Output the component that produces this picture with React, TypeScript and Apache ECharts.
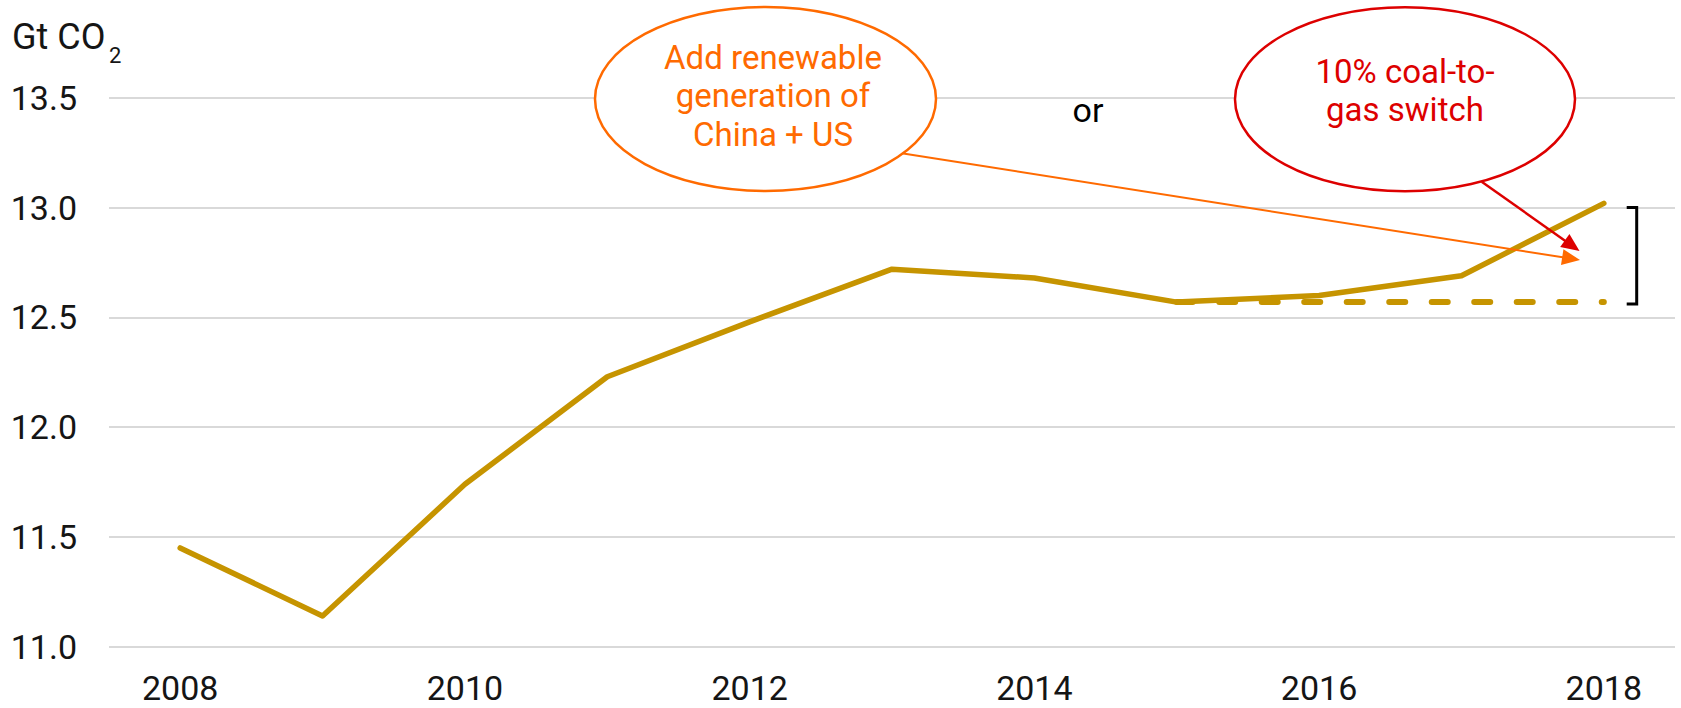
import React, { useEffect, useRef } from "react";
import * as echarts from "echarts";

// ---- data ----
const years = [2008, 2009, 2010, 2011, 2012, 2013, 2014, 2015, 2016, 2017, 2018];
const emissions = [11.45, 11.14, 11.74, 12.23, 12.48, 12.72, 12.68, 12.57, 12.6, 12.69, 13.02];
const flatYears = [2015, 2018];
const flatValue = 12.57;
const xTickLabels = [2008, 2010, 2012, 2014, 2016, 2018];
const yMin = 11.0;
const yMax = 13.5;
const yStep = 0.5;
const unitMain = "Gt CO";
const unitSub = "2";
const renewText = ["Add renewable", "generation of", "China + US"];
const switchText = ["10% coal-to-", "gas switch"];
const orText = "or";

const GOLD = "#C69400";
const ORANGE = "#FF6A00";
const RED = "#DD0000";
const FONT = "Roboto";

function arrow(sx: number, sy: number, tx: number, ty: number, color: string, w: number) {
  const dx = tx - sx;
  const dy = ty - sy;
  const len = Math.sqrt(dx * dx + dy * dy);
  const ux = dx / len;
  const uy = dy / len;
  const L = 18;
  const hw = 8;
  const bx = tx - ux * L;
  const by = ty - uy * L;
  const nx = -uy;
  const ny = ux;
  return [
    {
      type: "line",
      shape: { x1: sx, y1: sy, x2: bx + ux * 2, y2: by + uy * 2 },
      style: { stroke: color, lineWidth: w },
      z: 50,
    },
    {
      type: "polygon",
      shape: {
        points: [
          [tx, ty],
          [bx + nx * hw, by + ny * hw],
          [bx - nx * hw, by - ny * hw],
        ],
      },
      style: { fill: color },
      z: 50,
    },
  ];
}

export default function App() {
  const ref = useRef<HTMLDivElement>(null);
  useEffect(() => {
    if (!ref.current) return;
    const chart = echarts.init(ref.current, null, { renderer: "svg" });
    const option: any = {
      animation: false,
      backgroundColor: "#ffffff",
      grid: { left: 109, right: 6, top: 98, bottom: 61.3, containLabel: false },
      xAxis: {
        type: "value",
        min: 2007.5,
        max: 2018.5,
        axisLine: { show: false },
        axisTick: { show: false },
        splitLine: { show: false },
        axisLabel: {
          customValues: xTickLabels,
          formatter: (v: number) => String(v),
          margin: 24,
          fontSize: 34,
          fontFamily: FONT,
          color: "#151515",
        },
      },
      yAxis: {
        type: "value",
        min: yMin,
        max: yMax,
        interval: yStep,
        axisLine: { show: false },
        axisTick: { show: false },
        splitLine: { lineStyle: { color: "#D9D9D9", width: 2 } },
        axisLabel: {
          formatter: (v: number) => v.toFixed(1),
          margin: 32,
          fontSize: 34,
          fontFamily: FONT,
          color: "#151515",
        },
      },
      series: [
        {
          type: "line",
          data: flatYears.map((y) => [y, flatValue]),
          showSymbol: false,
          lineStyle: { color: GOLD, width: 6, type: [16, 26.5], cap: "round" },
          z: 2,
        },
        {
          type: "line",
          data: years.map((y, i) => [y, emissions[i]]),
          showSymbol: false,
          lineStyle: { color: GOLD, width: 5.5, cap: "round", join: "round" },
          z: 3,
        },
      ],
      graphic: [
        {
          type: "text",
          x: 12,
          y: 37,
          style: { text: unitMain, fontSize: 36, fontFamily: FONT, fill: "#151515", verticalAlign: "middle", align: "left" },
        },
        {
          type: "text",
          x: 109,
          y: 55,
          style: { text: unitSub, fontSize: 22, fontFamily: FONT, fill: "#151515", verticalAlign: "middle", align: "left" },
        },
        ...arrow(901.7, 153.3, 1580, 260, ORANGE, 2),
        ...arrow(1481.7, 181.7, 1579.5, 251, RED, 2.5),
        {
          type: "ellipse",
          shape: { cx: 765.5, cy: 99, rx: 170.5, ry: 92 },
          style: { fill: "#ffffff", stroke: ORANGE, lineWidth: 2.5 },
          z: 60,
        },
        {
          type: "ellipse",
          shape: { cx: 1405, cy: 99.3, rx: 170, ry: 92 },
          style: { fill: "#ffffff", stroke: RED, lineWidth: 2.5 },
          z: 60,
        },
        {
          type: "text",
          x: 773,
          y: 38,
          z: 61,
          style: {
            text: renewText.join("\n"),
            fontSize: 33,
            lineHeight: 38.5,
            fontFamily: FONT,
            fill: ORANGE,
            align: "center",
            verticalAlign: "top",
          },
        },
        {
          type: "text",
          x: 1405,
          y: 52,
          z: 61,
          style: {
            text: switchText.join("\n"),
            fontSize: 33,
            lineHeight: 38.5,
            fontFamily: FONT,
            fill: RED,
            align: "center",
            verticalAlign: "top",
          },
        },
        {
          type: "text",
          x: 1088,
          y: 110,
          z: 61,
          style: { text: orText, fontSize: 34, fontFamily: FONT, fill: "#000000", align: "center", verticalAlign: "middle" },
        },
        {
          type: "polyline",
          shape: { points: [[1626.7, 207.5], [1636.7, 207.5], [1636.7, 304], [1626.7, 304]] },
          style: { stroke: "#000000", lineWidth: 3, fill: null },
          z: 50,
        },
      ],
    };
    chart.setOption(option);
    return () => chart.dispose();
  }, []);
  return <div ref={ref} style={{ position: "absolute", left: 0, top: 0, width: 1681, height: 708 }} />;
}
